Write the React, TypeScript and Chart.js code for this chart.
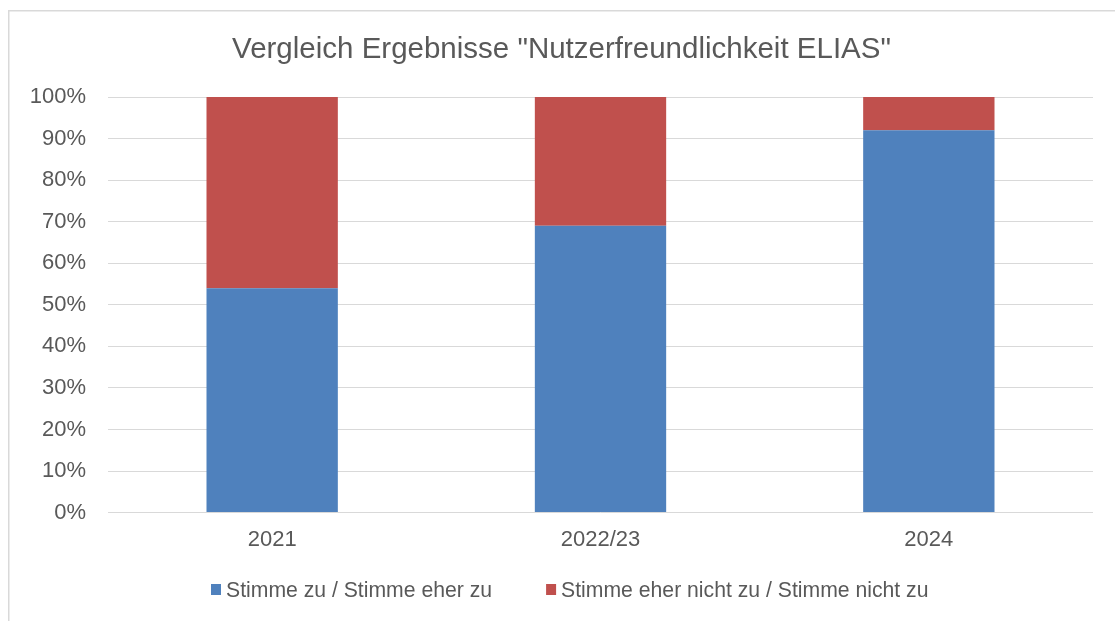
import React, { useEffect, useRef } from "react";
import { Chart, registerables } from "chart.js";

Chart.register(...registerables);

const categories = ["2021", "2022/23", "2024"];
const agreeValues = [54, 69, 92];
const disagreeValues = [46, 31, 8];
const seriesLabels = [
  "Stimme zu / Stimme eher zu",
  "Stimme eher nicht zu / Stimme nicht zu",
];
const seriesColors = ["#4F81BD", "#C0504D"];
const titleText = 'Vergleich Ergebnisse "Nutzerfreundlichkeit ELIAS"';
const yTickStep = 10;

const FONT = "'Liberation Sans', Arial, sans-serif";
const TEXT = "#595959";
const GRID = "#D9D9D9";

const framePlugin = {
  id: "frame",
  beforeDraw(chart: any) {
    const ctx = chart.ctx;
    ctx.save();
    ctx.fillStyle = "#ffffff";
    ctx.fillRect(0, 0, chart.width, chart.height);
    ctx.strokeStyle = GRID;
    ctx.lineWidth = 1.5;
    ctx.beginPath();
    ctx.moveTo(8.75, chart.height);
    ctx.lineTo(8.75, 10.75);
    ctx.lineTo(chart.width, 10.75);
    ctx.stroke();
    ctx.restore();
  },
};

const legendPlugin = {
  id: "bottomLegend",
  afterDraw(chart: any) {
    const ctx = chart.ctx;
    const baseline = 597;
    let x = 211;
    ctx.save();
    ctx.font = `21.2px ${FONT}`;
    ctx.textBaseline = "alphabetic";
    ctx.textAlign = "left";
    chart.data.datasets.forEach((ds: any) => {
      ctx.fillStyle = ds.backgroundColor;
      ctx.fillRect(x, baseline - 13, 10, 11);
      ctx.fillStyle = TEXT;
      ctx.fillText(ds.label, x + 15, baseline);
      const w = ctx.measureText(ds.label).width;
      x += 15 + w + 54;
    });
    ctx.restore();
  },
};

export default function App() {
  const canvasRef = useRef<HTMLCanvasElement | null>(null);

  useEffect(() => {
    if (!canvasRef.current) return;
    const chart = new Chart(canvasRef.current, {
      type: "bar",
      data: {
        labels: categories,
        datasets: [
          {
            label: seriesLabels[0],
            data: agreeValues,
            backgroundColor: seriesColors[0],
            borderWidth: 0,
            barPercentage: 0.4,
            categoryPercentage: 1,
          },
          {
            label: seriesLabels[1],
            data: disagreeValues,
            backgroundColor: seriesColors[1],
            borderWidth: 0,
            barPercentage: 0.4,
            categoryPercentage: 1,
          },
        ],
      },
      options: {
        animation: false,
        responsive: true,
        maintainAspectRatio: false,
        layout: { padding: { top: 12, right: 22, bottom: 54, left: 30 } },
        plugins: {
          legend: { display: false },
          tooltip: { enabled: false },
          title: {
            display: true,
            text: titleText,
            color: TEXT,
            font: { family: FONT, size: 29.5, weight: "normal", lineHeight: 1.2 },
            padding: { top: 20, bottom: 29.6 },
          },
        },
        scales: {
          x: {
            stacked: true,
            grid: { display: false, drawTicks: false },
            border: { display: false },
            ticks: {
              color: TEXT,
              padding: 14,
              font: { family: FONT, size: 22, lineHeight: 1.2 },
            },
          },
          y: {
            stacked: true,
            min: 0,
            max: 100,
            grid: { color: GRID, lineWidth: 1, drawTicks: false },
            border: { display: false },
            ticks: {
              stepSize: yTickStep,
              color: TEXT,
              padding: 22,
              font: { family: FONT, size: 22, lineHeight: 1.2 },
              callback: (v: any) => `${v}%`,
            },
            afterFit: (scale: any) => {
              scale.width = 78;
            },
          },
        },
      },
      plugins: [framePlugin, legendPlugin],
    });
    return () => chart.destroy();
  }, []);

  return (
    <div style={{ position: "absolute", left: 0, top: 0, width: 1115, height: 621 }}>
      <canvas ref={canvasRef} />
    </div>
  );
}
